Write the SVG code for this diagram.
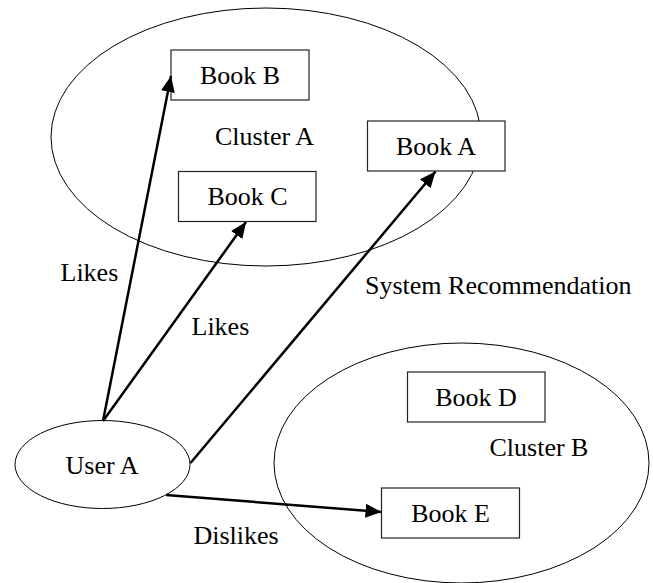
<svg xmlns="http://www.w3.org/2000/svg" width="653" height="583" viewBox="0 0 653 583">
<style>
.cl{fill:none;stroke:#000;stroke-width:1}
.bx{fill:#fff;stroke:#222;stroke-width:1.2}
.t{font-family:"Liberation Serif","Times New Roman",serif;font-size:26px;fill:#000}
.m{text-anchor:middle}
.ar{stroke:#000;stroke-width:2.5;fill:none;marker-end:url(#ah)}
</style>
<defs>
<marker id="ah" markerUnits="userSpaceOnUse" markerWidth="16" markerHeight="14" refX="16" refY="7" orient="auto" viewBox="0 0 16 14">
<path d="M0,0 L16,7 L0,14 z" fill="#000"/>
</marker>
</defs>
<rect width="653" height="583" fill="#fff"/>
<g id="clusterA">
<ellipse class="cl" cx="266" cy="137" rx="215" ry="129"/>
<text class="t" x="215" y="145">Cluster A</text>
</g>
<g id="clusterB">
<ellipse class="cl" cx="461.5" cy="463" rx="187.5" ry="120"/>
<text class="t" x="489.5" y="456">Cluster B</text>
</g>
<g id="bookB">
<rect class="bx" x="171" y="50" width="138" height="50"/>
<text class="t m" x="240" y="84">Book B</text>
</g>
<g id="bookA">
<rect class="bx" x="367.5" y="121" width="137.5" height="50"/>
<text class="t m" x="436" y="155">Book A</text>
</g>
<g id="bookC">
<rect class="bx" x="178.5" y="171.5" width="137.5" height="50"/>
<text class="t m" x="247.5" y="204.5">Book C</text>
</g>
<g id="bookD">
<rect class="bx" x="407.5" y="372" width="137.5" height="50"/>
<text class="t m" x="476" y="406">Book D</text>
</g>
<g id="bookE">
<rect class="bx" x="381.5" y="488" width="138" height="50"/>
<text class="t m" x="450.5" y="521.5">Book E</text>
</g>
<g id="userA">
<ellipse class="cl" cx="102.5" cy="464.5" rx="87.5" ry="44"/>
<text class="t" x="65.5" y="474">User A</text>
</g>
<g id="connectors">
<line class="ar" x1="103" y1="421" x2="171" y2="76"/>
<line class="ar" x1="103" y1="421" x2="246" y2="222"/>
<line class="ar" x1="190.5" y1="463" x2="435.5" y2="171.5"/>
<line class="ar" x1="166" y1="495" x2="381.5" y2="512"/>
<text class="t" x="60.5" y="281">Likes</text>
<text class="t" x="191.5" y="335">Likes</text>
<text class="t" x="365" y="293.5">System Recommendation</text>
<text class="t" x="193.5" y="544">Dislikes</text>
</g>
</svg>
